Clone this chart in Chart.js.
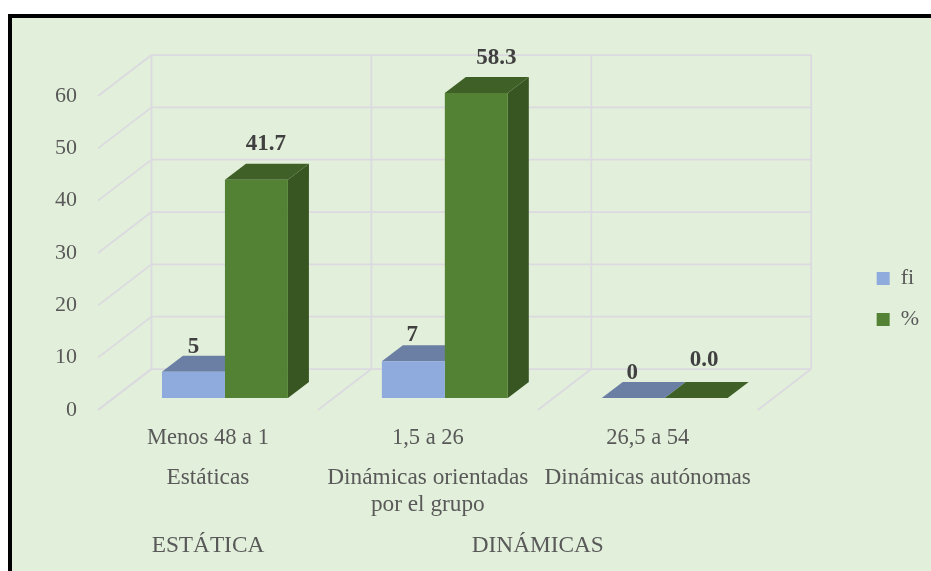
<!DOCTYPE html>
<html>
<head>
<meta charset="utf-8">
<style>html,body{margin:0;padding:0;background:#fff}canvas{display:block;filter:blur(0.45px)}</style>
<script src="https://cdn.jsdelivr.net/npm/chart.js@4"></script>
</head>
<body>
<div style="width:931px;height:571px;position:relative;overflow:hidden"><canvas id="c" width="931" height="571"></canvas></div>
<script>
const ranges = ["Menos 48 a 1", "1,5 a 26", "26,5 a 54"];
const categoryNames = [["Estáticas"], ["Dinámicas orientadas", "por el grupo"], ["Dinámicas autónomas"]];
const groupNames = ["ESTÁTICA", "DINÁMICAS"];
const seriesNames = ["fi", "%"];
const fiValues = [5, 7, 0];
const pctValues = [41.7, 58.3, 0.0];
const yTicks = [0, 10, 20, 30, 40, 50, 60];

const SERIF = '"Liberation Serif", "Times New Roman", serif';
const TEXT = '#595959', LABEL = '#404040', GRID = '#DBDAE0', BG = '#E2EFDA';
const FRONT = ['#8FAADC', '#548235'], TOP = ['#6B7FA5', '#3F6127'], SIDE = ['#5F7296', '#375621'];
const WALL = {fx: -17, fy: 12, bx: 36.5, by: -29};   // wall planes relative to bar plane
const BAR = {dx: 21, dy: -16};                       // bar extrusion
const LABEL_SHIFT = [
  [[0, -24.5], [-1, -26], [-1, -25]],
  [[9.5, -36], [20, -35], [8, -38]]
];

const scene = {
  id: 'scene',
  afterLayout(chart) {
    const lg = chart.legend;
    const w = lg.right - lg.left, h = lg.bottom - lg.top;
    lg.left += 83; lg.right = lg.left + w;
    lg.top -= 28.5; lg.bottom = lg.top + h;
    if (lg.adjustHitBoxes) lg.adjustHitBoxes();
  },
  beforeDraw(chart) {
    const g = chart.ctx, W = chart.width, H = chart.height;
    g.save();
    g.fillStyle = '#fff'; g.fillRect(0, 0, W, H);
    g.fillStyle = '#000'; g.fillRect(8, 14, W - 8, H - 14);
    g.fillStyle = BG; g.fillRect(12, 18, W - 12, H - 18);
    g.restore();
  },
  beforeDatasetsDraw(chart) {
    const g = chart.ctx, xs = chart.scales.x, ys = chart.scales.y;
    g.save();
    g.strokeStyle = GRID; g.lineWidth = 1.75;
    const line = (a, b, c, d) => { g.beginPath(); g.moveTo(a, b); g.lineTo(c, d); g.stroke(); };
    const y0 = ys.getPixelForValue(0), yTop = ys.getPixelForValue(yTicks[yTicks.length - 1]);
    const step = xs.getPixelForValue(1) - xs.getPixelForValue(0);
    const left = xs.getPixelForValue(0) - step / 2;
    for (const v of yTicks) {
      const y = ys.getPixelForValue(v);
      line(left + WALL.fx, y + WALL.fy, left + WALL.bx, y + WALL.by);
      line(left + WALL.bx, y + WALL.by, left + step * ranges.length + WALL.bx, y + WALL.by);
    }
    for (let i = 0; i <= ranges.length; i++) {
      const x = left + step * i;
      line(x + WALL.bx, yTop + WALL.by, x + WALL.bx, y0 + WALL.by);
      line(x + WALL.fx, y0 + WALL.fy, x + WALL.bx, y0 + WALL.by);
    }
    // extruded faces of each bar
    const poly = (pts, col) => {
      g.fillStyle = col; g.beginPath();
      pts.forEach((p, i) => i ? g.lineTo(p[0], p[1]) : g.moveTo(p[0], p[1]));
      g.closePath(); g.fill();
    };
    chart.data.datasets.forEach((d, di) => {
      chart.getDatasetMeta(di).data.forEach(b => {
        const l = b.x - b.width / 2, r = b.x + b.width / 2, t = b.y, bt = b.base;
        poly([[r, t], [r + BAR.dx, t + BAR.dy], [r + BAR.dx, bt + BAR.dy], [r, bt]], SIDE[di]);
        poly([[l, t], [l + BAR.dx, t + BAR.dy], [r + BAR.dx, t + BAR.dy], [r, t]], TOP[di]);
      });
    });
    g.restore();
  },
  afterDatasetsDraw(chart) {
    const g = chart.ctx, xs = chart.scales.x;
    g.save();
    g.textAlign = 'center'; g.textBaseline = 'middle';
    g.fillStyle = LABEL; g.font = 'bold 23px ' + SERIF;
    chart.data.datasets.forEach((d, di) => {
      chart.getDatasetMeta(di).data.forEach((b, i) => {
        const s = LABEL_SHIFT[di][i];
        const txt = di === 1 ? d.data[i].toFixed(1) : String(d.data[i]);
        g.fillText(txt, b.x + s[0], b.y + s[1]);
      });
    });
    g.fillStyle = TEXT; g.font = '23.3px ' + SERIF;
    const y0 = chart.scales.y.getPixelForValue(0);
    categoryNames.forEach((lines, i) => {
      lines.forEach((t, k) => g.fillText(t, xs.getPixelForValue(i) + WALL.fx, y0 + 80 + k * 27));
    });
    const step = xs.getPixelForValue(1) - xs.getPixelForValue(0);
    g.fillText(groupNames[0], xs.getPixelForValue(0) + WALL.fx, y0 + 148);
    g.fillText(groupNames[1], xs.getPixelForValue(1) + step / 2 + WALL.fx, y0 + 148);
    g.restore();
  }
};

new Chart(document.getElementById('c'), {
  type: 'bar',
  data: {
    labels: ranges,
    datasets: [
      {label: seriesNames[0], data: fiValues, backgroundColor: FRONT[0], barPercentage: 1, categoryPercentage: 0.5727},
      {label: seriesNames[1], data: pctValues, backgroundColor: FRONT[1], barPercentage: 1, categoryPercentage: 0.5727}
    ]
  },
  options: {
    responsive: false, animation: false, devicePixelRatio: 1,
    layout: {padding: {top: 84, right: 85, bottom: 0, left: 0}},
    scales: {
      x: {
        grid: {display: false}, border: {display: false},
        afterFit(s) { s.height = 173; },
        ticks: {color: TEXT, font: {family: SERIF, size: 22.5}, labelOffset: -17, padding: 19, maxRotation: 0, autoSkip: false}
      },
      y: {
        min: 0, max: 60,
        grid: {display: false}, border: {display: false},
        afterFit(s) { s.width = 115; },
        afterBuildTicks(s) { s.ticks = yTicks.map(v => ({value: v})); },
        ticks: {color: TEXT, font: {family: SERIF, size: 22}, labelOffset: 12, padding: 38 - 8}
      }
    },
    plugins: {
      tooltip: {enabled: false},
      legend: {
        position: 'right', align: 'center',
        labels: {color: TEXT, font: {family: SERIF, size: 22}, boxWidth: 13, boxHeight: 13, padding: 19}
      }
    }
  },
  plugins: [scene]
});
</script>
</body>
</html>
